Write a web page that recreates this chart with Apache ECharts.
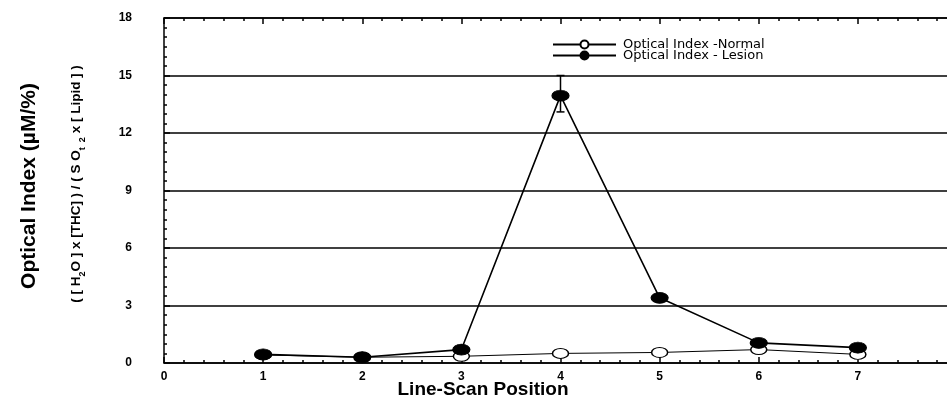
<!DOCTYPE html>
<html>
<head>
<meta charset="utf-8">
<script src="https://cdn.jsdelivr.net/npm/echarts@6/dist/echarts.min.js"></script>
<style>
    html, body {margin: 0; padding: 0; background: #fff;}
    #main {width: 947px; height: 404px;}
</style>
</head>
<body>
<div id="main"></div>
<script>
// line-scan positions
let positions = [1, 2, 3, 4, 5, 6, 7];
let normalIdx = [0.42, 0.3, 0.35, 0.5, 0.55, 0.7, 0.45];
let lesionIdx = [0.45, 0.3, 0.7, 13.95, 3.4, 1.05, 0.8];
// error bar (lesion, position 4)
let errPos = [4];
let errLow = [13.1];
let errHigh = [15.0];
let xTicks = [0, 1, 2, 3, 4, 5, 6, 7, 8];
let yTicks = [0, 3, 6, 9, 12, 15, 18];

let font = 'Liberation Sans, Arial, sans-serif';

let pair = function (xs, ys) {
    let out = [];
    xs.forEach(function (x, i) {
        out.push([x, ys[i]]);
    });
    return out;
};
let errData = [];
errPos.forEach(function (x, i) {
    errData.push([x, errLow[i], errHigh[i]]);
});

let chart = echarts.init(document.getElementById('main'));
let axisLine = {show: true, lineStyle: {color: '#000', width: 1.5}};

chart.setOption({
    backgroundColor: '#fff',
    animation: false,
    grid: {left: 164, width: 793, top: 18, height: 345, containLabel: false, outerBoundsMode: 'none'},
    legend: {
        orient: 'vertical', left: 552, top: 38, itemGap: -2, padding: 0,
        itemWidth: 63, itemHeight: 10,
        textStyle: {fontFamily: 'DejaVu Sans, sans-serif', fontSize: 13, color: '#000', padding: [0, 0, 0, 2]},
        data: ['Optical Index -Normal', 'Optical Index - Lesion']
    },
    graphic: [
        {
            type: 'text', x: 29, y: 186, rotation: Math.PI / 2,
            style: {
                text: 'Optical Index (µM/%)', fontFamily: font, fontSize: 21, fontWeight: 'bold',
                fill: '#000', align: 'center', verticalAlign: 'middle'
            }
        },
        {
            type: 'text', x: 76, y: 184, rotation: Math.PI / 2,
            style: {
                text: '( [ H{s|2}O ] x [THC] ) / ( S O{s|t  2} x [ Lipid ] )',
                fontFamily: font, fontSize: 13.5, fontWeight: 'bold', fill: '#000',
                align: 'center', verticalAlign: 'middle', lineHeight: 22,
                rich: {s: {fontFamily: font, fontSize: 9, fontWeight: 'bold', verticalAlign: 'bottom', lineHeight: 22}}
            }
        },
        {
            type: 'text', x: 483, y: 390,
            style: {
                text: 'Line-Scan Position', fontFamily: font, fontSize: 19, fontWeight: 'bold',
                fill: '#000', align: 'center', verticalAlign: 'middle'
            }
        }
    ],
    xAxis: [
        {
            type: 'value', min: xTicks[0], max: xTicks[xTicks.length - 1], interval: 1,
            axisLine: axisLine,
            axisTick: {show: true, inside: true, length: 6, lineStyle: {color: '#000', width: 1.5}},
            minorTick: {show: true, splitNumber: 5, length: 3, lineStyle: {color: '#000', width: 1.5}},
            axisLabel: {
                fontFamily: font, fontSize: 12, fontWeight: 'bold', color: '#000', margin: 8,
                formatter: function (v) {
                    return v < 8 ? String(v) : '';
                }
            },
            splitLine: {show: false}
        },
        {
            type: 'value', position: 'top', min: xTicks[0], max: xTicks[xTicks.length - 1], interval: 1,
            axisLine: axisLine,
            axisTick: {show: true, inside: true, length: 6, lineStyle: {color: '#000', width: 1.5}},
            minorTick: {show: true, splitNumber: 5, length: 3, lineStyle: {color: '#000', width: 1.5}},
            axisLabel: {show: false},
            splitLine: {show: false}
        }
    ],
    yAxis: {
        type: 'value', min: yTicks[0], max: yTicks[yTicks.length - 1], interval: 3,
        axisLine: axisLine,
        axisTick: {show: true, inside: true, length: 6, lineStyle: {color: '#000', width: 1.5}},
        minorTick: {show: true, splitNumber: 6, length: 3, lineStyle: {color: '#000', width: 1.5}},
        axisLabel: {fontFamily: font, fontSize: 12, fontWeight: 'bold', color: '#000', margin: 32},
        splitLine: {show: true, lineStyle: {color: '#000', width: 1.5}}
    },
    series: [
        {
            name: 'Optical Index -Normal', type: 'line', data: pair(positions, normalIdx),
            symbol: 'circle', symbolSize: [16, 10], showAllSymbol: true,
            lineStyle: {color: '#000', width: 1},
            itemStyle: {color: '#fff', borderColor: '#000', borderWidth: 1.2},
            z: 3
        },
        {
            name: 'Optical Index - Lesion', type: 'line', data: pair(positions, lesionIdx),
            symbol: 'circle', symbolSize: [17, 11], showAllSymbol: true,
            lineStyle: {color: '#000', width: 1.6},
            itemStyle: {color: '#000', borderColor: '#000', borderWidth: 1},
            z: 4
        },
        {
            type: 'custom', data: errData, z: 5, silent: true,
            renderItem: function (params, api) {
                let lo = api.coord([api.value(0), api.value(1)]);
                let hi = api.coord([api.value(0), api.value(2)]);
                let cap = 4;
                let st = {stroke: '#000', lineWidth: 1.5};
                return {
                    type: 'group',
                    children: [
                        {type: 'line', shape: {x1: lo[0], y1: lo[1], x2: hi[0], y2: hi[1]}, style: st},
                        {type: 'line', shape: {x1: lo[0] - cap, y1: lo[1], x2: lo[0] + cap, y2: lo[1]}, style: st},
                        {type: 'line', shape: {x1: hi[0] - cap, y1: hi[1], x2: hi[0] + cap, y2: hi[1]}, style: st}
                    ]
                };
            }
        }
    ]
});
</script>
</body>
</html>
